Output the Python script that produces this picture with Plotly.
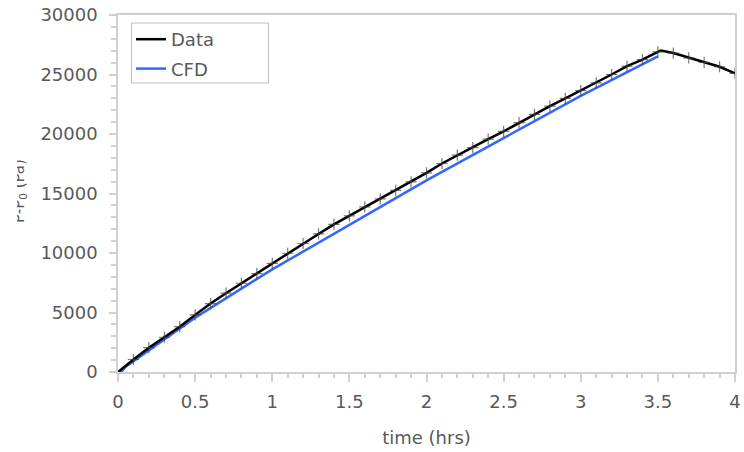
import plotly.graph_objects as go

# ---- data ----
data_time = [0, 0.04, 0.1, 0.2, 0.3, 0.4, 0.5, 0.6, 0.7, 0.8, 0.9, 1.0,
             1.1, 1.2, 1.3, 1.4, 1.5, 1.6, 1.7, 1.8, 1.9, 2.0,
             2.1, 2.2, 2.3, 2.4, 2.5, 2.6, 2.7, 2.8, 2.9, 3.0,
             3.1, 3.2, 3.3, 3.4, 3.5, 3.52, 3.6, 3.7, 3.8, 3.9, 4.0]
data_dp = [0, 450, 1050, 2040, 2920, 3810, 4800, 5750, 6620, 7460, 8260, 9120,
           9980, 10800, 11600, 12400, 13120, 13880, 14550, 15260, 15980, 16730,
           17520, 18220, 18850, 19570, 20220, 20950, 21650, 22350, 23000, 23650,
           24300, 25000, 25700, 26250, 26900, 27020, 26800, 26400, 26020, 25650, 25100]
data_marked = [t not in (0, 0.04, 3.52) for t in data_time]

cfd_time = [0, 0.02, 0.05, 0.5, 1.0, 1.5, 2.0, 2.5, 3.0, 3.5]
cfd_dp = [0, 0, 450, 4570, 8620, 12350, 16100, 19660, 23200, 26520]

x_ticks_dtick = 0.5
y_ticks_dtick = 5000

FONT = "DejaVu Sans"
TXT = "#595959"
AX = "#d0d0d0"

fig = go.Figure()
fig.add_trace(go.Scatter(x=cfd_time, y=cfd_dp, mode="lines", name="CFD",
                         line=dict(color="#3366FF", width=2.5), legendrank=2,
                         legendgroup="b"))
fig.add_trace(go.Scatter(x=data_time, y=data_dp, mode="lines", name="Data",
                         line=dict(color="black", width=2.5), legendrank=1,
                         legendgroup="a"))
fig.add_trace(go.Scatter(x=data_time, y=data_dp, mode="markers", showlegend=False,
                         marker=dict(symbol="cross-thin",
                                     size=[8 if m else 0 for m in data_marked],
                                     line=dict(color="#404040", width=1.2))))

axis_common = dict(showgrid=False, zeroline=False, showline=True, linecolor=AX,
                   linewidth=1.5, mirror=True, tickcolor=AX, tickwidth=1.5,
                   automargin=False,
                   tickfont=dict(family=FONT, size=18, color=TXT))

pw = 744 - 118 - 9
ph = 452 - 15 - 80

def px(xp):
    return (xp - 118) / pw

def py(yp):
    return (372 - yp) / ph

fig.update_layout(
    width=744, height=452,
    margin=dict(l=118, r=9, t=15, b=80),
    paper_bgcolor="white", plot_bgcolor="white",
    font=dict(family=FONT, size=18, color=TXT),
    showlegend=True,
    hovermode=False,
    legend=dict(x=px(131), y=py(21), xanchor="left", yanchor="top",
                borderwidth=0, bgcolor="rgba(0,0,0,0)", tracegroupgap=3,
                font=dict(family=FONT, size=18, color=TXT)),
    xaxis=dict(range=[0, 4], dtick=x_ticks_dtick, tick0=0, ticks="outside", ticklen=8,
               minor=dict(dtick=0.1, ticks="outside", ticklen=4, tickcolor=AX, tickwidth=1.5),
               ticklabelstandoff=5,
               title=dict(text="time (hrs)", standoff=20,
                          font=dict(family=FONT, size=18, color=TXT)),
               **axis_common),
    xaxis2=dict(range=[0, 4], overlaying="x", anchor="y", side="bottom",
                dtick=x_ticks_dtick, tick0=0, ticks="inside", ticklen=7,
                tickcolor=AX, tickwidth=1.5, automargin=False,
                minor=dict(dtick=0.1, ticks="inside", ticklen=4, tickcolor=AX, tickwidth=1.5),
                showticklabels=False, showline=False, showgrid=False, zeroline=False),
    yaxis=dict(range=[0, 30000], dtick=y_ticks_dtick, tick0=0, tickformat="d",
               ticks="outside", ticklen=7,
               minor=dict(dtick=1000, ticks="outside", ticklen=5, tickcolor=AX, tickwidth=1.5),
               ticklabelstandoff=8,
               **axis_common),
)

# legend frame
fig.add_shape(type="rect", xref="paper", yref="paper",
              x0=px(131.5), x1=px(268.5), y0=py(83), y1=py(23),
              line=dict(color="#bfbfbf", width=1), fillcolor="rgba(0,0,0,0)")

fig.add_annotation(text="P-P<sub>0</sub> (Pa)", textangle=-90, showarrow=False,
                   xref="paper", yref="paper", x=px(19), y=py(191),
                   xanchor="center", yanchor="middle",
                   font=dict(family=FONT, size=15, color=TXT))
fig.add_annotation(text=" ", showarrow=False, xref="paper", yref="paper",
                   x=px(0), y=py(191), xanchor="left", yanchor="middle",
                   width=17, height=120, bgcolor="white", borderpad=0, borderwidth=0)

fig.write_html("out.html", config={"displayModeBar": False},
               post_script="document.body.style.margin='0';")
